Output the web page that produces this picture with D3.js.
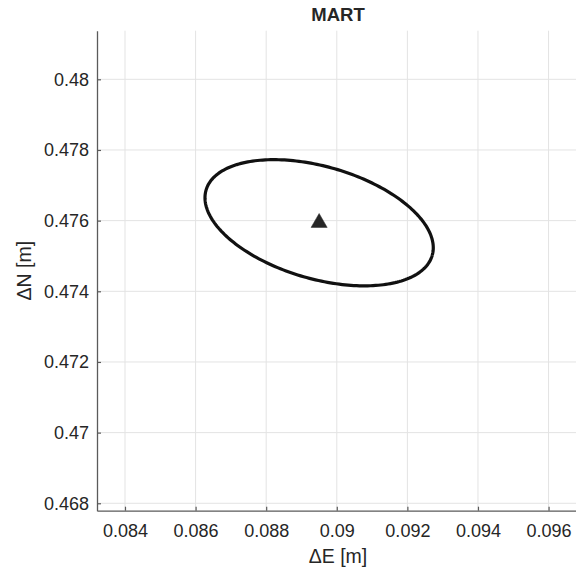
<!DOCTYPE html>
<html>
<head>
<meta charset="utf-8">
<script src="https://cdn.jsdelivr.net/npm/d3@7"></script>
<style>
  html, body { margin: 0; padding: 0; background: #fff; }
  svg { display: block; }
  text { font-family: "Liberation Sans", Arial, Helvetica, sans-serif; fill: #262626; }
</style>
</head>
<body>
<svg id="chart" width="576" height="571"></svg>
<script>
// ---- data ----
const title = "MART";
const xLabel = "ΔE [m]";
const yLabel = "ΔN [m]";
const xTicks = [0.084, 0.086, 0.088, 0.090, 0.092, 0.094, 0.096];
const yTicks = [0.468, 0.470, 0.472, 0.474, 0.476, 0.478, 0.480];
const xTickLabels = ["0.084", "0.086", "0.088", "0.09", "0.092", "0.094", "0.096"];
const yTickLabels = ["0.468", "0.47", "0.472", "0.474", "0.476", "0.478", "0.48"];
const xDomain = [0.083207, 0.096862];
const yDomain = [0.46779, 0.481376];
// point estimate (triangle) and its error ellipse
const stationE = [0.0895];
const stationN = [0.47594];
const ellipseSemiMajor = [0.0033344];
const ellipseSemiMinor = [0.0015902];
const ellipseAngleDeg = [-16.1];

// ---- layout ----
const plotL = 97, plotR = 579, plotT = 30.7, plotB = 510.7;
const svg = d3.select("#chart");
const x = d3.scaleLinear().domain(xDomain).range([plotL, plotR]);
const y = d3.scaleLinear().domain(yDomain).range([plotB, plotT]);

// grid
const grid = svg.append("g").attr("stroke", "#e3e3e3").attr("stroke-width", 1);
grid.selectAll("line.v").data(xTicks).join("line").attr("class", "v")
  .attr("x1", d => x(d)).attr("x2", d => x(d)).attr("y1", plotT).attr("y2", plotB);
grid.selectAll("line.h").data(yTicks).join("line").attr("class", "h")
  .attr("y1", d => y(d)).attr("y2", d => y(d)).attr("x1", plotL).attr("x2", plotR);

// axes
const fmtX = d => xTickLabels[xTicks.indexOf(d)];
const fmtY = d => yTickLabels[yTicks.indexOf(d)];
const xAxis = svg.append("g").attr("transform", `translate(0,${plotB})`)
  .call(d3.axisBottom(x).tickValues(xTicks).tickFormat(fmtX).tickSizeInner(-4).tickSizeOuter(0).tickPadding(14));
const yAxis = svg.append("g").attr("transform", `translate(${plotL},0)`)
  .call(d3.axisLeft(y).tickValues(yTicks).tickFormat(fmtY).tickSizeInner(-4).tickSizeOuter(0).tickPadding(8));
[xAxis, yAxis].forEach(a => {
  a.select(".domain").attr("stroke", "#5a5a5a").attr("stroke-width", 1.3);
  a.selectAll(".tick line").attr("stroke", "#5a5a5a").attr("stroke-width", 1.2);
  a.selectAll(".tick text").attr("fill", "#262626")
    .style("font-family", '"Liberation Sans", Arial, sans-serif').style("font-size", "18px");
});

// ellipse
const nPts = 240;
const th = ellipseAngleDeg[0] * Math.PI / 180;
const ellPts = d3.range(nPts + 1).map(i => {
  const t = 2 * Math.PI * i / nPts;
  const u = ellipseSemiMajor[0] * Math.cos(t), v = ellipseSemiMinor[0] * Math.sin(t);
  return [stationE[0] + u * Math.cos(th) - v * Math.sin(th),
          stationN[0] + u * Math.sin(th) + v * Math.cos(th)];
});
svg.append("path").datum(ellPts)
  .attr("d", d3.line().x(d => x(d[0])).y(d => y(d[1])))
  .attr("fill", "none").attr("stroke", "#111").attr("stroke-width", 3.2);

// triangle marker
svg.selectAll("path.marker").data(stationE.map((e, i) => [e, stationN[i]])).join("path")
  .attr("class", "marker")
  .attr("transform", d => `translate(${x(d[0])},${y(d[1])})`)
  .attr("d", d3.symbol(d3.symbolTriangle, 112)())
  .attr("fill", "#262626").attr("stroke", "#262626").attr("stroke-width", 0.5);

// labels
svg.append("text").attr("x", (plotL + plotR) / 2).attr("y", 20.7)
  .attr("text-anchor", "middle").style("font-size", "18.5px").style("font-weight", "bold")
  .attr("fill", "#000").text(title);
svg.append("text").attr("x", (plotL + plotR) / 2).attr("y", 563)
  .attr("text-anchor", "middle").style("font-size", "19.5px").text(xLabel);
svg.append("text").attr("transform", `translate(30.7,${(plotT + plotB) / 2}) rotate(-90)`)
  .attr("text-anchor", "middle").style("font-size", "19.5px").text(yLabel);
</script>
</body>
</html>
